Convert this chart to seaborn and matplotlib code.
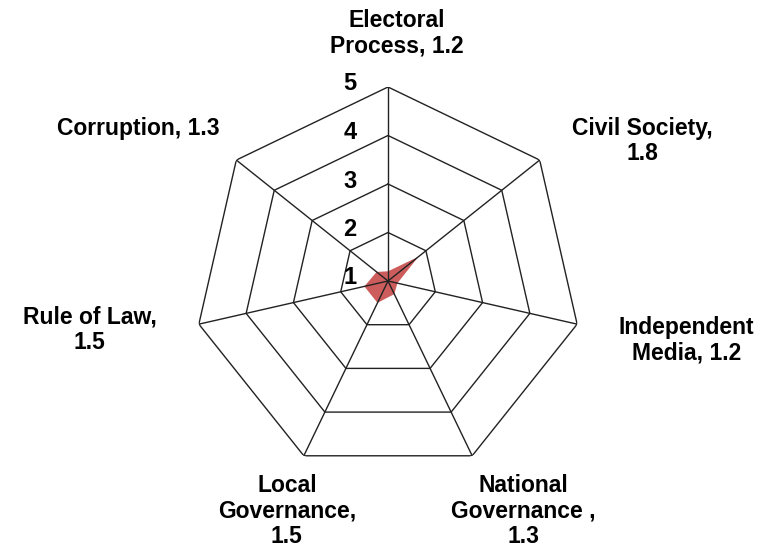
import numpy as np
import matplotlib
matplotlib.use("Agg")
import matplotlib.pyplot as plt
import seaborn as sns

# data
categories = ["Electoral Process", "Civil Society", "Independent Media",
              "National Governance", "Local Governance", "Rule of Law",
              "Corruption"]
scores = [1.2, 1.8, 1.2, 1.3, 1.5, 1.5, 1.3]
label_texts = ["Electoral\nProcess, 1.2", "Civil Society,\n1.8",
               "Independent\nMedia, 1.2", "National\nGovernance ,\n1.3",
               "Local\nGovernance,\n1.5", "Rule of Law,\n1.5",
               "Corruption, 1.3"]
levels = [1, 2, 3, 4, 5]

# label offsets (pixels) from each outer vertex
label_offsets = [(9, 54), (103, 19), (109, -16), (51, -55), (-17, -55),
                 (-109, -6), (-98, 32)]

sns.set_theme(style="white")
plt.rcParams['font.family'] = ['Liberation Sans', 'DejaVu Sans']

W, H, DPI = 769, 555, 100
fig = plt.figure(figsize=(W / DPI, H / DPI), dpi=DPI)
cx, cy, rad = 388, 555 - 281, 194
ax = fig.add_axes([(cx - rad) / W, (cy - rad) / H, 2 * rad / W, 2 * rad / H],
                  projection='polar')
ax.set_theta_offset(np.pi / 2)
ax.set_theta_direction(-1)
ax.set_ylim(levels[0], levels[-1])

n = len(categories)
angles = np.linspace(0, 2 * np.pi, n, endpoint=False)
closed = np.append(angles, angles[0])

# filled data polygon
vals = np.append(scores, scores[0])
ax.fill(closed, vals, color='#C84B4B', alpha=0.9, lw=0, zorder=1)

# heptagon gridlines and spokes
line_kw = dict(color='#222222', lw=1.0, zorder=2)
for lv in levels[1:]:
    ax.plot(closed, [lv] * len(closed), **line_kw)
for a in angles:
    ax.plot([a, a], [levels[0], levels[-1]], **line_kw)

ax.grid(False)
ax.spines['polar'].set_visible(False)
ax.set_xticks([])
ax.set_yticks([])
ax.set_facecolor('none')

# value labels along the top axis
for lv in levels:
    ax.annotate(str(lv), xy=(0, lv), xytext=(-38, 3),
                textcoords='offset pixels', ha='center', va='center',
                fontsize=17, fontweight='bold', color='black')

# category labels
for a, txt, off in zip(angles, label_texts, label_offsets):
    ax.annotate(txt, xy=(a, levels[-1]), xytext=off,
                textcoords='offset pixels', ha='center', va='center',
                multialignment='center', fontsize=16.5, fontweight='bold',
                linespacing=1.13, color='black', annotation_clip=False)

fig.savefig("out.png", dpi=DPI, facecolor='white')
plt.close(fig)
